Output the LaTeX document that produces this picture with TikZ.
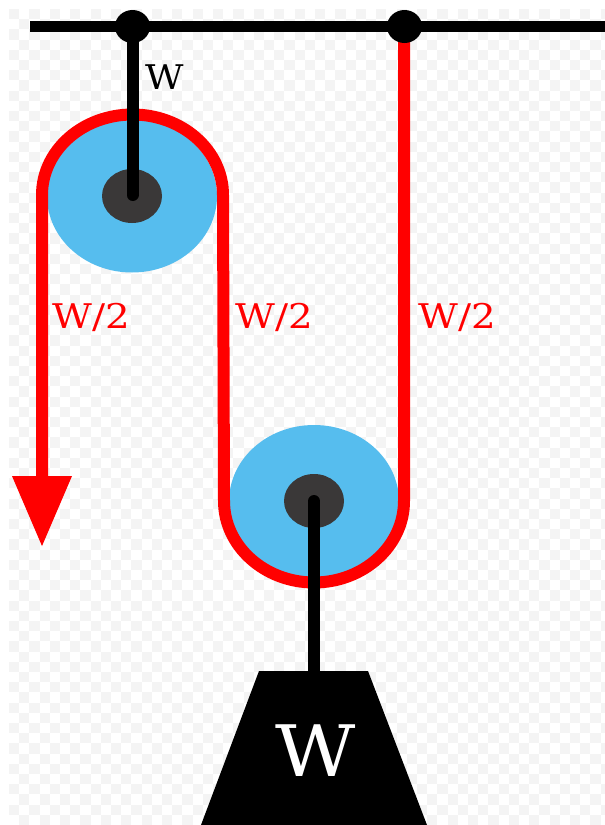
\documentclass[tikz,border=0pt]{standalone}
\usepackage{fontspec}
\setmainfont{DejaVu Serif}
\usetikzlibrary{shapes.geometric}
\definecolor{wheelblue}{HTML}{56BDEE}
\definecolor{hubgrey}{HTML}{3A3838}
\definecolor{checkgrey}{HTML}{F4F4F4}
\tikzset{
  x=1pt,y=-1pt,
  wheel/.style={ellipse,fill=wheelblue,inner sep=0pt,minimum width=170pt,minimum height=153pt},
  hub/.style={ellipse,fill=hubgrey,inner sep=0pt,minimum width=60pt,minimum height=54pt},
  knot/.style={ellipse,fill=black,inner sep=0pt,minimum width=35pt,minimum height=33pt},
  rope/.style={draw=red,line width=12pt},
  rod/.style={draw=black,line width=12pt,line cap=round},
  forcelabel/.style={text=red,font=\fontsize{34}{34}\selectfont,inner sep=0pt,anchor=base west,xscale=1.14},
}
\begin{document}
\begin{tikzpicture}
\useasboundingbox (0,0) rectangle (605,825);
\fill[white] (0,0) rectangle (605,825);
% faint transparency checkerboard
\foreach \i in {0,...,58}{
  \foreach \j in {0,...,81}{
    \pgfmathtruncatemacro{\odd}{mod(\i+\j,2)}
    \ifnum\odd=0
      \fill[checkgrey] ({9+10.2*\i},{9+10.2*\j}) rectangle ({min(605,19.2+10.2*\i)},{min(825,19.2+10.2*\j)});
    \fi
  }
}
% ceiling
\coordinate (barL) at (30,26.5);
\coordinate (barR) at (605,26.5);
\draw[black,line width=11.5pt] (barL) -- (barR);
% wheels
\node[wheel] (wheelA) at (132,196) {};
\node[wheel] (wheelB) at (314,501.5) {};
\node[hub] (hubA) at (132,196) {};
\node[hub] (hubB) at (314,501) {};
\coordinate (knotAc) at (132.5,26.5);
\coordinate (knotBc) at (404.5,26.5);
% rope
\coordinate (ropeEnd) at (42,480);
\coordinate (tipL) at (12,476);
\coordinate (tipR) at (72,476);
\coordinate (tip) at (42,546);
\draw[rope] (ropeEnd) -- (42,195)
  .. controls (42,150.5) and (82.5,114.5) .. (132.5,114.5)
  .. controls (182.5,114.5) and (223,150.5) .. (223,195)
  -- (224,501)
  .. controls (224,546) and (264.5,582.5) .. (314,582.5)
  .. controls (363.5,582.5) and (404,546) .. (404,501)
  -- (404,26.5);
\fill[red] (tipL) -- (tipR) -- (tip) -- cycle;
% hangers
\node[fill=black,inner sep=0pt,minimum size=0pt] (weightTop) at (314,672) {};
\draw[rod] (knotAc) -- (132.5,195);
\draw[rod] (hubB.center) -- (weightTop);
\node[knot] (knotA) at (knotAc) {};
\node[knot] (knotB) at (knotBc) {};
% weight
\fill[black] (259,671) -- (368,671) -- (427,825) -- (201,825) -- cycle;
% labels
\node[inner sep=0pt,anchor=base west,xscale=1.1,font=\fontsize{34}{34}\selectfont] (lblW) at (145,89.5) {W};
\node[forcelabel] (lblA) at (52,328) {W/2};
\node[forcelabel] (lblB) at (235,328) {W/2};
\node[forcelabel] (lblC) at (418,328) {W/2};
\node[inner sep=0pt,anchor=base,xscale=1.1,text=white,font=\fontsize{71}{71}\selectfont] (lblWeight) at (315.5,776) {W};
\end{tikzpicture}
\end{document}
